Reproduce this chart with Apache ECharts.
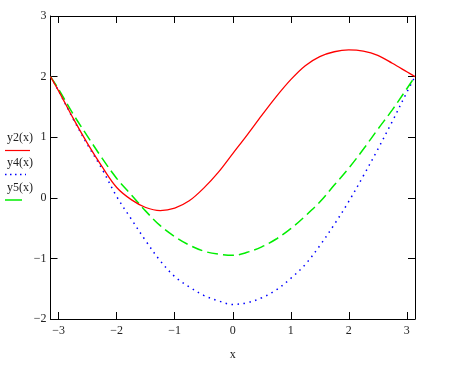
<!DOCTYPE html>
<html>
<head>
<meta charset="utf-8">
<script src="https://cdn.jsdelivr.net/npm/echarts@6/dist/echarts.min.js"></script>
<style>
html,body{margin:0;padding:0;background:#fff;}
#chart{width:449px;height:366px;}
</style>
</head>
<body>
<div id="chart"></div>
<script>
// x sample positions (from -pi to pi)
var xValues = [-3.1416, -3.0, -2.75, -2.5, -2.25, -2.0, -1.75, -1.5, -1.25, -1.0, -0.75, -0.5, -0.25, 0, 0.25, 0.5, 0.75, 1.0, 1.25, 1.5, 1.75, 2.0, 2.25, 2.5, 2.75, 3.0, 3.1416];
var y2Values = [2.0, 1.76, 1.31, 0.89, 0.51, 0.17, -0.03, -0.16, -0.21, -0.17, -0.05, 0.16, 0.42, 0.73, 1.04, 1.36, 1.67, 1.95, 2.18, 2.33, 2.41, 2.44, 2.42, 2.35, 2.22, 2.08, 2.0];
var y4Values = [2.0, 1.76, 1.30, 0.87, 0.47, 0.02, -0.35, -0.71, -1.04, -1.30, -1.47, -1.61, -1.70, -1.76, -1.73, -1.65, -1.52, -1.33, -1.10, -0.79, -0.44, -0.06, 0.36, 0.80, 1.26, 1.74, 2.0];
var y5Values = [2.0, 1.79, 1.38, 1.01, 0.65, 0.32, 0.05, -0.22, -0.46, -0.64, -0.78, -0.88, -0.93, -0.95, -0.90, -0.81, -0.68, -0.51, -0.30, -0.07, 0.21, 0.49, 0.80, 1.13, 1.45, 1.80, 2.0];
var seriesNames = ['y2(x)', 'y4(x)', 'y5(x)'];
var xAxisName = 'x';
var yMin = -2, yMax = 3, yStep = 1;

function pairs(ys) { return xValues.map(function (x, i) { return [x, ys[i]]; }); }
function fmt(v) {
  if (Math.abs(v - Math.round(v)) > 1e-6) return '';
  return String(Math.round(v)).replace('-', '\u2212');
}

var FONT = 'Liberation Serif';
var chart = echarts.init(document.getElementById('chart'), null, {renderer: 'canvas'});
var axisLine = {show: true, onZero: false, lineStyle: {color: '#000', width: 1}};
var tick = {show: true, inside: true, length: 7, lineStyle: {color: '#000', width: 1}};

chart.setOption({
  animation: false,
  grid: {left: 50.5, right: 34, top: 16, bottom: 46, containLabel: false},
  xAxis: [{
    type: 'value', min: -3.1416, max: 3.1416, splitNumber: 7,
    axisLine: axisLine, axisTick: tick, splitLine: {show: false},
    axisLabel: {formatter: fmt, fontFamily: FONT, fontSize: 12, color: '#222', margin: 6, showMinLabel: true, showMaxLabel: true},
    name: xAxisName, nameLocation: 'middle', nameGap: 30,
    nameTextStyle: {fontFamily: FONT, fontSize: 12, color: '#222'}
  }, {
    type: 'value', position: 'top', min: -3.1416, max: 3.1416, splitNumber: 7,
    axisLine: axisLine, axisTick: tick, splitLine: {show: false}, axisLabel: {show: false}
  }],
  yAxis: [{
    type: 'value', min: yMin, max: yMax, interval: yStep,
    axisLine: axisLine, axisTick: tick, splitLine: {show: false},
    axisLabel: {formatter: fmt, fontFamily: FONT, fontSize: 12, color: '#222', margin: 4}
  }, {
    type: 'value', position: 'right', min: yMin, max: yMax, interval: yStep,
    axisLine: axisLine, axisTick: tick, splitLine: {show: false}, axisLabel: {show: false}
  }],
  series: [{
    name: seriesNames[0], type: 'line', data: pairs(y2Values), smooth: 0.35, showSymbol: false,
    lineStyle: {color: '#ff0000', width: 1.3}, z: 3
  }, {
    name: seriesNames[1], type: 'line', data: pairs(y4Values), smooth: 0.35, showSymbol: false,
    lineStyle: {color: '#0000ff', width: 1.5, type: [1.5, 4.5]}, z: 2
  }, {
    name: seriesNames[2], type: 'line', data: pairs(y5Values), smooth: 0.35, showSymbol: false,
    lineStyle: {color: '#00ee00', width: 1.5, type: [11, 5]}, z: 2
  }],
  graphic: [
    {type: 'text', left: 7, top: 132, style: {text: seriesNames[0], font: '12px "Liberation Serif"', fill: '#222'}},
    {type: 'line', shape: {x1: 5, y1: 150.5, x2: 30, y2: 150.5}, style: {stroke: '#ff0000', lineWidth: 1.2}},
    {type: 'text', left: 7, top: 157, style: {text: seriesNames[1], font: '12px "Liberation Serif"', fill: '#222'}},
    {type: 'line', shape: {x1: 5, y1: 174.5, x2: 26, y2: 174.5}, style: {stroke: '#0000ff', lineWidth: 1.5, lineDash: [1.5, 3.5]}},
    {type: 'text', left: 7, top: 182, style: {text: seriesNames[2], font: '12px "Liberation Serif"', fill: '#222'}},
    {type: 'line', shape: {x1: 5, y1: 200, x2: 22, y2: 200}, style: {stroke: '#00ee00', lineWidth: 1.5}}
  ]
});
</script>
</body>
</html>
